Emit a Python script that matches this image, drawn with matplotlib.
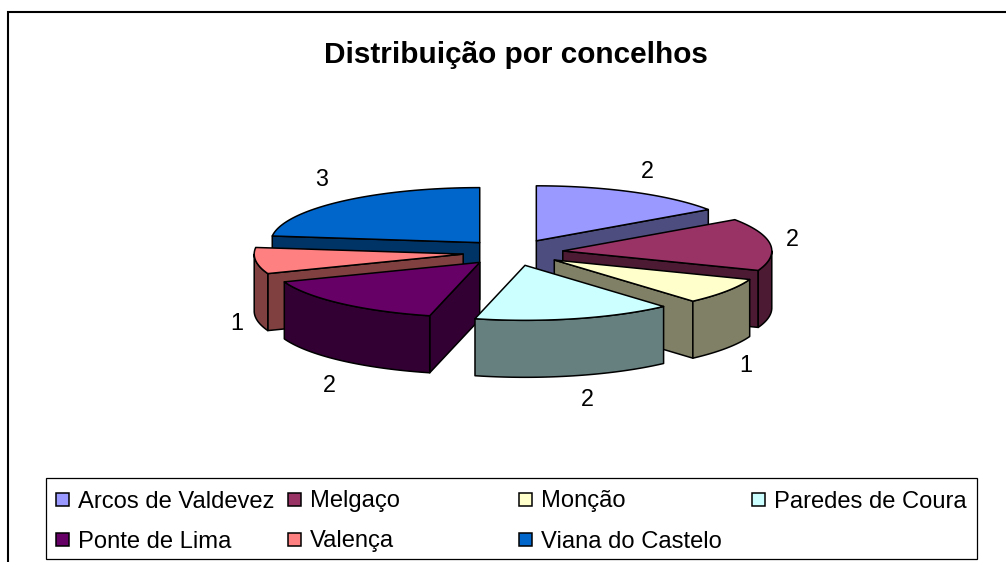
import numpy as np
import matplotlib
matplotlib.use('Agg')
import matplotlib.pyplot as plt
from matplotlib.patches import Polygon, Rectangle

plt.rcParams['font.family'] = ['Liberation Sans', 'DejaVu Sans']

title = 'Distribuição por concelhos'
concelhos = ['Arcos de Valdevez', 'Melgaço', 'Monção', 'Paredes de Coura',
             'Ponte de Lima', 'Valença', 'Viana do Castelo']
valores = [2, 2, 1, 2, 2, 1, 3]
cores = ['#9999FF', '#993366', '#FFFFCC', '#CCFFFF', '#660066', '#FF8080', '#0066CC']

# pie geometry, all in pixels of the 1006x562 picture
CX, CY = 513, 252.5
A, B = 209, 55
DEPTH = 57
EXPLODE = 0.24
# back slices get painted first
ordem = [0, 6, 1, 5, 2, 4, 3]
label_pos = [(647, 172), (792, 240), (746, 365), (587, 399), (329, 386), (237, 324), (322, 180)]


def pt(cx, cy, ang):
    return cx + A * np.sin(ang), cy - B * np.cos(ang)


def arc(cx, cy, a1, a2):
    t = np.linspace(a1, a2, 60)
    return np.column_stack(pt(cx, cy, t))


fig = plt.figure(figsize=(10.06, 5.62), dpi=100)
ax = fig.add_axes([0, 0, 1, 1])
ax.set_xlim(0, 1006)
ax.set_ylim(562, 0)
ax.axis('off')

# chart frame, cropped at the bottom and on the right
ax.plot([8, 8, 1006], [562, 12, 12], color='black', lw=1.5, solid_joinstyle='miter')

ax.text(516, 55, title, ha='center', va='center', fontsize=21.4, fontweight='bold')

fracs = np.array(valores) / sum(valores) * 2 * np.pi
fim = np.cumsum(fracs)
ini = fim - fracs


def draw_slice(i):
    a1, a2 = ini[i], fim[i]
    mid = (a1 + a2) / 2
    cx = CX + EXPLODE * A * np.sin(mid)
    cy = CY - EXPLODE * B * np.cos(mid)
    rgb = np.array(matplotlib.colors.to_rgb(cores[i]))
    side = rgb * 0.5
    style = dict(edgecolor='black', lw=1.1, joinstyle='round')

    # flat cut faces, only the ones looking at us
    for ang, visible in ((a1, np.sin(a1) < -1e-6), (a2, np.sin(a2) > 1e-6)):
        if visible:
            x, y = pt(cx, cy, ang)
            ax.add_patch(Polygon([(cx, cy), (x, y), (x, y + DEPTH), (cx, cy + DEPTH)],
                                 facecolor=side, **style))

    # outer wall, front half of the ellipse
    w1, w2 = max(a1, np.pi / 2), min(a2, 3 * np.pi / 2)
    if w2 > w1:
        top = arc(cx, cy, w1, w2)
        bottom = top[::-1] + [0, DEPTH]
        ax.add_patch(Polygon(np.vstack([top, bottom]), facecolor=side, **style))

    ax.add_patch(Polygon(np.vstack([[(cx, cy)], arc(cx, cy, a1, a2)]), facecolor=rgb, **style))


for i in ordem:
    draw_slice(i)

for v, (x, y) in zip(valores, label_pos):
    ax.text(x, y, str(v), ha='center', va='center', fontsize=16.8)

# legend box
ax.add_patch(Rectangle((46, 478), 931, 81, facecolor='white', edgecolor='black', lw=0.9))
col_x = [56, 288, 519, 752]
row_y = [500, 540]
for i, nome in enumerate(concelhos):
    x = col_x[i % 4]
    y = row_y[i // 4]
    ax.add_patch(Rectangle((x, y - 7), 13, 13, facecolor=cores[i], edgecolor='black', lw=1.1))
    ax.text(x + 22, y - 1, nome, ha='left', va='center_baseline', fontsize=17.1)

fig.savefig('out.png', dpi=100)
